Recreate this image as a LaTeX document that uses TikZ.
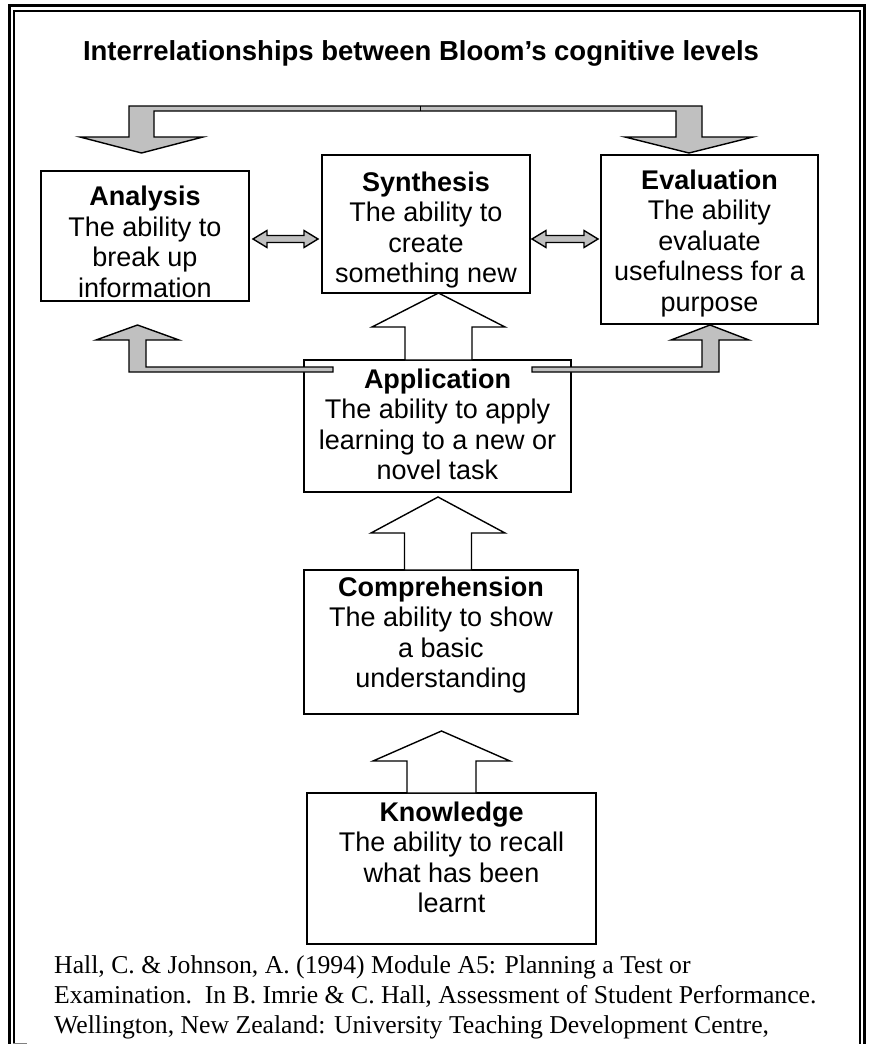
\documentclass[tikz,border=0pt]{standalone}
\usepackage{fontspec}
\setmainfont{Liberation Serif}
\newfontfamily\arialf{Liberation Sans}
\definecolor{arrgray}{RGB}{192,192,192}
\newcommand\bodyfont{\arialf\fontsize{27}{30.5}\selectfont}
\newcommand\uparr[6]{%
  \filldraw[wblock] ({#1-#5},#3) -- (#1,#2) -- ({#1+#5},#3) -- ({#1+#6},#3) -- ({#1+#6},#4) -- ({#1-#6},#4) -- ({#1-#6},#3) -- cycle;}
\newcommand\dblarr[3]{%
  \filldraw[gblock] (#1,#3) -- ({#1+14},{#3-8.5}) -- ({#1+14},{#3-3.5}) -- ({#2-14},{#3-3.5}) -- ({#2-14},{#3-8.5}) -- (#2,#3) -- ({#2-14},{#3+8.5}) -- ({#2-14},{#3+3.5}) -- ({#1+14},{#3+3.5}) -- ({#1+14},{#3+8.5}) -- cycle;}
\begin{document}
\begin{tikzpicture}[x=1pt,y=-1pt,
  box/.style={draw, line width=1.4pt, inner sep=0pt, fill=white},
  lbl/.style={anchor=base, align=center, font=\bodyfont, inner sep=0pt},
  wblock/.style={draw=black, fill=white, line width=1.4pt, line join=miter},
  gblock/.style={draw=black, fill=arrgray, line width=1.4pt, line join=miter}]
\useasboundingbox (0,0) rectangle (871,1044);
\fill[white] (0,0) rectangle (871,1044);
% frame
\draw[line width=3pt] (9,1044) -- (9,5.5) -- (864.5,5.5) -- (864.5,1044);
\draw[line width=2pt] (14,1044) -- (14,11) -- (860,11) -- (860,1044);
\draw[gray, line width=1pt] (13,1043.5) -- (27,1043.5);
% title
\node[anchor=base, inner sep=0pt, font=\arialf\bfseries\fontsize{27.5}{32}\selectfont] (title) at (421,60) {Interrelationships between Bloom’s cognitive levels};
% boxes
\node[box, minimum width=208pt, minimum height=130pt] (ana) at (145,236) {};
\node[box, minimum width=208pt, minimum height=138pt] (syn) at (426,224) {};
\node[box, minimum width=217pt, minimum height=169pt] (eva) at (709.5,239.5) {};
\node[box, minimum width=267pt, minimum height=132pt] (app) at (437.5,426) {};
\node[box, minimum width=274pt, minimum height=144pt] (com) at (441,642) {};
\node[box, minimum width=289pt, minimum height=151pt] (kno) at (451.5,868.5) {};
% texts (anchor = baseline of last line)
\node[lbl] (anat) at (145,297) {\textbf{Analysis}\\The ability to\\break up\\information};
\node[lbl] (synt) at (426,282.5) {\textbf{Synthesis}\\The ability to\\create\\something new};
\node[lbl] (evat) at (709.5,311) {\textbf{Evaluation}\\The ability\\evaluate\\usefulness for a\\purpose};
\node[lbl] (appt) at (437.5,479.5) {\textbf{Application}\\The ability to apply\\learning to a new or\\novel task};
\node[lbl] (comt) at (441,687.5) {\textbf{Comprehension}\\The ability to show\\a basic\\understanding};
\node[lbl] (knot) at (451.5,912.5) {\textbf{Knowledge}\\The ability to recall\\what has been\\learnt};
% white up arrows
\uparr{438.5}{293}{327}{360}{66.5}{33.5}
\uparr{438}{497}{533}{570}{67}{33.5}
\uparr{441.5}{731}{761}{793}{68.5}{34.5}
% double arrows
\dblarr{253}{318}{239}
\dblarr{532}{598}{239}
% top connector
\filldraw[gblock] (80,137) -- (141.5,153) -- (203,137) -- (154,137) -- (154,111) -- (676,111) -- (676,137) -- (625,137) -- (689,153) -- (753,137) -- (702,137) -- (702,106) -- (129,106) -- (129,137) -- cycle;
\draw[line width=1pt] (420,106) -- (420,111);
% side arrows from application
\filldraw[gblock] (96,340) -- (137.5,325) -- (179,340) -- (146,340) -- (146,367) -- (333,367) -- (333,372) -- (129,372) -- (129,340) -- cycle;
\filldraw[gblock] (532,367) -- (702,367) -- (702,340) -- (671,340) -- (710,325) -- (749,340) -- (719,340) -- (719,372) -- (532,372) -- cycle;
% citation
\node[anchor=base west, align=left, inner sep=0pt, font=\fontsize{25.7}{30}\selectfont] (cite) at (54,1033) {Hall, C. \& Johnson, A. (1994) Module A5: Planning a Test or\\Examination.\ \ In B. Imrie \& C. Hall, Assessment of Student Performance.\\Wellington, New Zealand: University Teaching Development Centre,};
\end{tikzpicture}
\end{document}
